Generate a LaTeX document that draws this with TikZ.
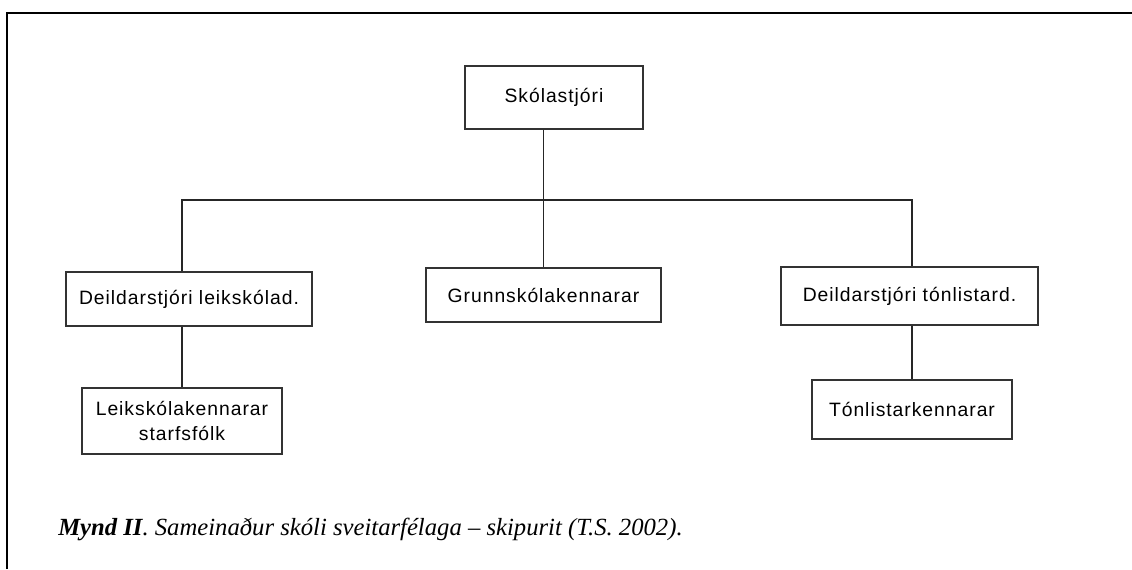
\documentclass[tikz,border=0pt]{standalone}
\usepackage{fontspec}
\setmainfont{Liberation Serif}
\newfontfamily\orgfont[LetterSpace=5]{Liberation Sans}
\usepackage{tikz}
\usetikzlibrary{calc}

\tikzset{
  orgbox/.style={draw=black!80, line width=1.4pt, fill=white, inner sep=0pt,
    align=center, font=\orgfont\fontsize{14.5}{18.75}\selectfont},
  link/.style={draw=black!85, line width=1.4pt},
  frame/.style={draw=black, line width=1.5pt}
}

\begin{document}
\begin{tikzpicture}[x=0.75pt, y=-0.75pt]
      \useasboundingbox (0,0) rectangle (1132,569);

      % frame
      \draw[frame] (7,569) -- (7,13) -- (1132,13);

      % boxes
      \node[orgbox, minimum width=133.5pt, minimum height=47.25pt] (skola) at (554,97.5) {Skólastjóri};
      \node[orgbox, minimum width=184.5pt, minimum height=40.5pt] (leikstj) at (189,299) {Deildarstjóri leikskólad.};
      \node[orgbox, minimum width=176.25pt, minimum height=40.5pt] (grunn) at (543.5,295) {Grunnskólakennarar};
      \node[orgbox, minimum width=192.75pt, minimum height=43.5pt] (tonstj) at (909.5,296) {Deildarstjóri tónlistard.};
      \node[orgbox, minimum width=150pt, minimum height=49.5pt] (leikkenn) at (182,421) {Leikskólakennarar\\starfsfólk};
      \node[orgbox, minimum width=150pt, minimum height=44.25pt] (tonkenn) at (912,409.5) {Tónlistarkennarar};

      \coordinate (bus) at (0,200);

      % connectors
      \draw[link] (skola.south -| grunn.north) -- (grunn.north);
      \draw[link] (leikkenn.north |- leikstj.north) |- (tonkenn.north |- bus)
                  -- (tonkenn.north |- tonstj.north);
      \draw[link] (leikkenn.north |- leikstj.south) -- (leikkenn.north);
      \draw[link] (tonkenn.north |- tonstj.south) -- (tonkenn.north);

      % caption
      \node[anchor=base west, inner sep=0pt, font=\fontsize{18.5}{22}\selectfont] (caption) at (58,535)
        {\textit{\textbf{Mynd II}. Sameinaður skóli sveitarfélaga -- skipurit (T.S. 2002).}};
\end{tikzpicture}
\end{document}
